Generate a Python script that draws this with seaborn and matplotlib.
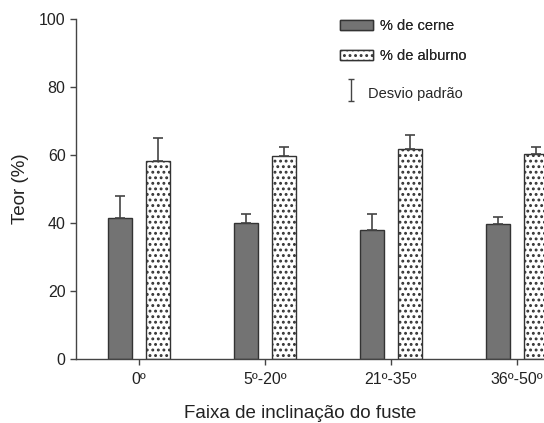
import numpy as np
import pandas as pd
import matplotlib
matplotlib.use("Agg")
import matplotlib.pyplot as plt
import seaborn as sns
from matplotlib.patches import Patch
from matplotlib.container import ErrorbarContainer
from matplotlib.legend_handler import HandlerErrorbar

# ------------------------------------------------------------------
# Dados
# ------------------------------------------------------------------
faixas = ["0º", "5º-20º", "21º-35º", "36º-50º"]
cerne = [41.5, 40.1, 38.0, 39.6]
cerne_dp = [6.5, 2.6, 4.5, 2.3]
alburno = [58.2, 59.7, 61.8, 60.3]
alburno_dp = [6.7, 2.6, 4.1, 2.1]

series = ["% de cerne", "% de alburno"]

df = pd.DataFrame({
    "Faixa": faixas * 2,
    "Serie": [series[0]] * 4 + [series[1]] * 4,
    "Teor": cerne + alburno,
    "DP": cerne_dp + alburno_dp,
})

sns.set_theme(style="white")
plt.rcParams["font.family"] = ["Liberation Sans", "DejaVu Sans"]
plt.rcParams["hatch.linewidth"] = 1.3
plt.rcParams["hatch.color"] = "#a8a8a8"

fig = plt.figure(figsize=(5.44, 4.23), dpi=100)
ax = fig.add_axes([0.1397, 0.1513, 0.926, 0.804])

sns.barplot(data=df, x="Faixa", y="Teor", hue="Serie", order=faixas,
            hue_order=series, palette=["#737373", "white"], width=0.6, gap=0.367,
            edgecolor="#333333", linewidth=1.0, errorbar=None, legend=False, ax=ax)

# hachura do alburno + barras de erro (só para cima)
n = len(faixas)
for i, p in enumerate(ax.patches[:2 * n]):
    s = i // n
    k = i % n
    if s == 1:
        p.set_hatch("...")
        p.set_edgecolor("#333333")
    cx = p.get_x() + p.get_width() / 2
    val = cerne[k] if s == 0 else alburno[k]
    dp = cerne_dp[k] if s == 0 else alburno_dp[k]
    ax.errorbar([cx], [val], yerr=[[0], [dp]], fmt="none", ecolor="#444444",
                elinewidth=1.2, capsize=3.5, capthick=1.2)

ax.set_xlim(-0.5, 3.5)
ax.set_ylim(0, 100)
ax.set_yticks([0, 20, 40, 60, 80, 100])
ax.tick_params(axis="both", direction="out", length=4.5, width=1, color="#444444",
               labelsize=11.5, labelcolor="#222222", bottom=True, left=True)
ax.tick_params(axis="x", pad=5)
ax.tick_params(axis="y", pad=3)
for side in ["top", "right"]:
    ax.spines[side].set_visible(False)
for side in ["left", "bottom"]:
    ax.spines[side].set_color("#444444")
    ax.spines[side].set_linewidth(1.0)

ax.set_xlabel("Faixa de inclinação do fuste", fontsize=13.5, color="#222222")
ax.xaxis.set_label_coords(0.445, -0.135)
ax.set_ylabel("Teor (%)", fontsize=13.5, labelpad=7, color="#222222")

# legenda
h1 = Patch(facecolor="#737373", edgecolor="#333333", label=series[0])
h2 = Patch(facecolor="white", edgecolor="#333333", hatch="...", label=series[1])
leg = fig.legend(handles=[h1, h2], labels=series,
                 loc="upper left", bbox_to_anchor=(0.6, 0.985), frameon=False,
                 fontsize=10.5, handlelength=2.3, handleheight=0.65, labelspacing=1.05,
                 handletextpad=0.5)
h3 = ax.errorbar([np.nan], [np.nan], yerr=[1], fmt="none", ecolor="#444444",
                 elinewidth=1.0, capsize=2.5, capthick=1.0, label="Desvio padrão")
fig.legend(handles=[h3], labels=["Desvio padrão"],
           loc="upper left", bbox_to_anchor=(0.605, 0.838), frameon=False,
           fontsize=10.5, handlelength=1.2, handleheight=2.0, handletextpad=0.6,
           handler_map={ErrorbarContainer: HandlerErrorbar(yerr_size=0.75)})
fig.add_artist(leg)

fig.savefig("out.png", dpi=100)
